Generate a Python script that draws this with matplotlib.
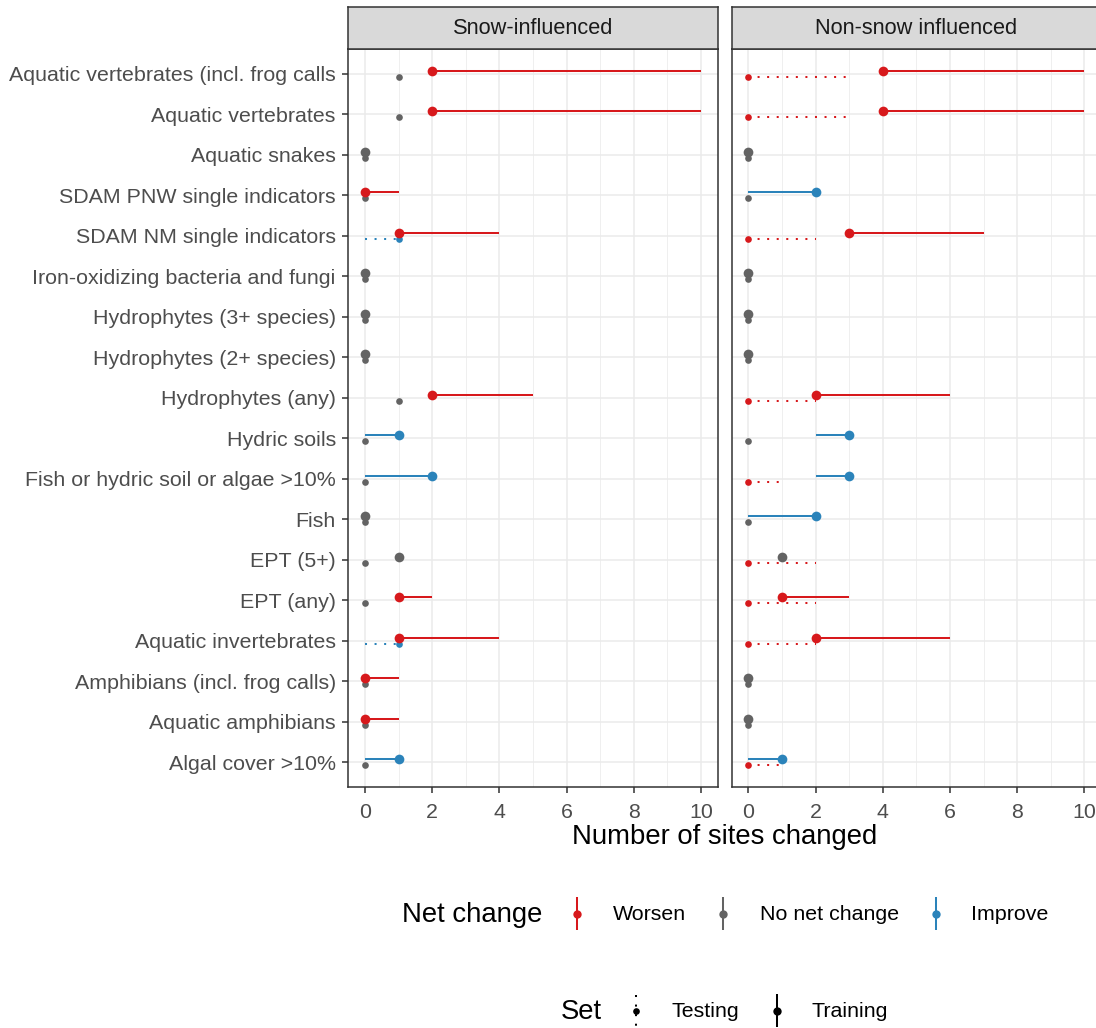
import numpy as np
import matplotlib
matplotlib.use("Agg")
import matplotlib.pyplot as plt
from matplotlib.lines import Line2D

plt.rcParams['font.family'] = ['Liberation Sans', 'DejaVu Sans']

# Indicators, top to bottom
indicators = ["Aquatic vertebrates (incl. frog calls", "Aquatic vertebrates", "Aquatic snakes",
              "SDAM PNW single indicators", "SDAM NM single indicators",
              "Iron-oxidizing bacteria and fungi", "Hydrophytes (3+ species)",
              "Hydrophytes (2+ species)", "Hydrophytes (any)", "Hydric soils",
              "Fish or hydric soil or algae >10%", "Fish", "EPT (5+)", "EPT (any)",
              "Aquatic invertebrates", "Amphibians (incl. frog calls)",
              "Aquatic amphibians", "Algal cover >10%"]

# Snow-influenced, training
snow_train_pt = [2, 2, 0, 0, 1, 0, 0, 0, 2, 1, 2, 0, 1, 1, 1, 0, 0, 1]
snow_train_lo = [2, 2, 0, 0, 1, 0, 0, 0, 2, 0, 0, 0, 1, 1, 1, 0, 0, 0]
snow_train_hi = [10, 10, 0, 1, 4, 0, 0, 0, 5, 1, 2, 0, 1, 2, 4, 1, 1, 1]
snow_train_chg = ["W", "W", "N", "W", "W", "N", "N", "N", "W", "I", "I", "N", "N", "W", "W", "W", "W", "I"]

# Snow-influenced, testing
snow_test_pt = [1, 1, 0, 0, 1, 0, 0, 0, 1, 0, 0, 0, 0, 0, 1, 0, 0, 0]
snow_test_lo = [1, 1, 0, 0, 0, 0, 0, 0, 1, 0, 0, 0, 0, 0, 0, 0, 0, 0]
snow_test_hi = [1, 1, 0, 0, 1, 0, 0, 0, 1, 0, 0, 0, 0, 0, 1, 0, 0, 0]
snow_test_chg = ["N", "N", "N", "N", "I", "N", "N", "N", "N", "N", "N", "N", "N", "N", "I", "N", "N", "N"]

# Non-snow influenced, training
nons_train_pt = [4, 4, 0, 2, 3, 0, 0, 0, 2, 3, 3, 2, 1, 1, 2, 0, 0, 1]
nons_train_lo = [4, 4, 0, 0, 3, 0, 0, 0, 2, 2, 2, 0, 1, 1, 2, 0, 0, 0]
nons_train_hi = [10, 10, 0, 2, 7, 0, 0, 0, 6, 3, 3, 2, 1, 3, 6, 0, 0, 1]
nons_train_chg = ["W", "W", "N", "I", "W", "N", "N", "N", "W", "I", "I", "I", "N", "W", "W", "N", "N", "I"]

# Non-snow influenced, testing
nons_test_pt = [0, 0, 0, 0, 0, 0, 0, 0, 0, 0, 0, 0, 0, 0, 0, 0, 0, 0]
nons_test_lo = [0, 0, 0, 0, 0, 0, 0, 0, 0, 0, 0, 0, 0, 0, 0, 0, 0, 0]
nons_test_hi = [3, 3, 0, 0, 2, 0, 0, 0, 2, 0, 1, 0, 2, 2, 2, 0, 0, 1]
nons_test_chg = ["W", "W", "N", "N", "W", "N", "N", "N", "W", "N", "W", "N", "W", "W", "W", "N", "N", "W"]

facets = ["Snow-influenced", "Non-snow influenced"]
colors = {"W": "#D7191C", "N": "#636363", "I": "#2B83BA"}
chg_labels = [("W", "Worsen"), ("N", "No net change"), ("I", "Improve")]

W, H = 1096, 1028
fig = plt.figure(figsize=(W / 100, H / 100), dpi=100)


def fx(px):
    return px / W


def fy(py):
    return 1 - py / H


def add_ax(left, right, top, bottom):
    return fig.add_axes([fx(left), fy(bottom), fx(right) - fx(left), fy(top) - fy(bottom)])


n = len(indicators)
ypos = np.arange(n)[::-1] + 1.0
dodge = 0.075

panels = [
    (348.3, 717.7, (snow_train_pt, snow_train_lo, snow_train_hi, snow_train_chg),
     (snow_test_pt, snow_test_lo, snow_test_hi, snow_test_chg)),
    (731.7, 1101.1, (nons_train_pt, nons_train_lo, nons_train_hi, nons_train_chg),
     (nons_test_pt, nons_test_lo, nons_test_hi, nons_test_chg)),
]

grid_col = "#EBEBEB"
border_col = "#333333"

for i, (left, right, train, test) in enumerate(panels):
    ax = add_ax(left, right, 49.3, 786.7)
    ax.set_xlim(-0.5, 10.5)
    ax.set_ylim(0.4, n + 0.6)
    ax.set_xticks(range(0, 11, 2))
    ax.set_xticks(range(1, 11, 2), minor=True)
    ax.set_yticks(ypos)
    ax.grid(True, which="major", color=grid_col, lw=1.1)
    ax.grid(True, which="minor", axis="x", color=grid_col, lw=0.55)
    ax.set_axisbelow(True)
    for s in ax.spines.values():
        s.set_color(border_col)
        s.set_linewidth(1.1)
    ax.tick_params(axis="both", which="major", length=4, width=1.1, color=border_col,
                   labelcolor="#4D4D4D", labelsize=15.4)
    ax.tick_params(axis="y", pad=5)
    ax.tick_params(axis="x", pad=8)
    ax.tick_params(axis="both", which="minor", length=0)
    if i == 0:
        ax.set_yticklabels(indicators)
    else:
        ax.set_yticklabels([])
        ax.tick_params(axis="y", length=0)

    # testing (dotted, lower) then training (solid, upper)
    for (pt, lo, hi, chg), off, ls, ms in [(test, -dodge, (0, (1, 3.75)), 4.8),
                                            (train, dodge, "-", 7.0)]:
        for k in range(n):
            y = ypos[k] + off
            c = colors[chg[k]]
            if hi[k] > lo[k]:
                ax.plot([lo[k], hi[k]], [y, y], color=c, lw=1.45, ls=ls,
                        solid_capstyle="butt", dash_capstyle="butt", zorder=3)
            ax.plot(pt[k], y, "o", color=c, ms=ms, mew=0, zorder=4)

    # strip
    sax = add_ax(left, right, 7.3, 49.3)
    sax.set_facecolor("#D9D9D9")
    sax.set_xticks([])
    sax.set_yticks([])
    for s in sax.spines.values():
        s.set_color(border_col)
        s.set_linewidth(1.1)
    sax.text(0.5, 0.5, facets[i], ha="center", va="center", fontsize=15.7,
             color="#1A1A1A", transform=sax.transAxes)

fig.text(fx(724.5), fy(837), "Number of sites changed", ha="center", va="center",
         fontsize=19.8, color="black")

# legend: Net change
fig.text(fx(401.5), fy(915), "Net change", ha="left", va="center", fontsize=19.8, color="black")
key_x = [576.5, 723.3, 936.0]
lab_x = [612.5, 759.5, 971.0]
for (code, lab), kx, lx in zip(chg_labels, key_x, lab_x):
    fig.add_artist(Line2D([fx(kx), fx(kx)], [fy(897), fy(930)], color=colors[code], lw=1.45,
                          solid_capstyle="butt"))
    fig.add_artist(Line2D([fx(kx)], [fy(913.5)], marker="o", color=colors[code], ms=6, mew=0))
    fig.text(fx(lx), fy(915), lab, ha="left", va="center", fontsize=15.4, color="black")

# legend: Set
fig.text(fx(560.7), fy(1011.7), "Set", ha="left", va="center", fontsize=19.8, color="black")
fig.add_artist(Line2D([fx(636.0), fx(636.0)], [fy(995), fy(1028)], color="black", lw=1.45,
                      ls=(0, (1, 3.75)), dash_capstyle="butt"))
fig.add_artist(Line2D([fx(636.0)], [fy(1010.5)], marker="o", color="black", ms=4.8, mew=0))
fig.text(fx(671.7), fy(1011.7), "Testing", ha="left", va="center", fontsize=15.4, color="black")
fig.add_artist(Line2D([fx(776.7), fx(776.7)], [fy(994), fy(1027)], color="black", lw=1.45,
                      solid_capstyle="butt"))
fig.add_artist(Line2D([fx(776.7)], [fy(1010.5)], marker="o", color="black", ms=6, mew=0))
fig.text(fx(811.5), fy(1011.7), "Training", ha="left", va="center", fontsize=15.4, color="black")

fig.savefig("out.png", dpi=100)
